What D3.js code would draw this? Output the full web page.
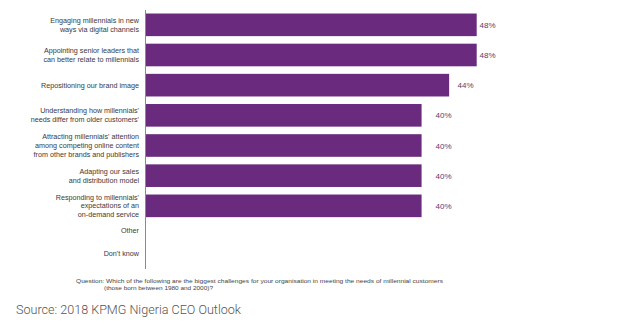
<!DOCTYPE html>
<html><head><meta charset="utf-8">
<script src="https://cdn.jsdelivr.net/npm/d3@7"></script>
<style>
body{margin:0;background:#fff;}
svg{display:block;}
</style></head>
<body>
<svg id="chart" width="626" height="331"></svg>
<script>
const categories = [
  ["Engaging millennials in new","ways via digital channels"],
  ["Appointing senior leaders that","can better relate to millennials"],
  ["Repositioning our brand image"],
  ["Understanding how millennials'","needs differ from older customers'"],
  ["Attracting millennials' attention","among competing online content","from other brands and publishers"],
  ["Adapting our sales","and distribution model"],
  ["Responding to millennials'","expectations of an","on-demand service"],
  ["Other"],
  ["Don't know"]
];
const values = [48, 48, 44, 40, 40, 40, 40, null, null];
const valueLabels = ["48%","48%","44%","40%","40%","40%","40%","",""];
const questionLines = [
  "Question: Which of the following are the biggest challenges for your organisation in meeting the needs of millennial customers",
  "(those born between 1980 and 2000)?"
];
const sourceText = "Source: 2018 KPMG Nigeria CEO Outlook";

const svg = d3.select("#chart");
const ids = categories.map((c,i)=>i);

const yBar = d3.scaleBand().domain(ids).range([10.5, 280.5]).paddingInner(0.25).paddingOuter(0.1);
const yOther = d3.scaleLinear().domain([7, 8]).range([230, 253]);
const x = d3.scaleLinear().domain([0, 48]).range([146, 476.7]);
const xLab = d3.scaleLinear().domain([40, 48]).range([435.5, 479.5]);

// bars
svg.append("g").selectAll("rect")
  .data(ids.filter(i => values[i] != null))
  .join("rect")
  .attr("x", x(0))
  .attr("y", i => yBar(i))
  .attr("width", i => x(values[i]) - x(0))
  .attr("height", yBar.bandwidth())
  .attr("fill", "#6a2b7e");

// axis line
svg.append("line")
  .attr("x1", 145.5).attr("x2", 145.5)
  .attr("y1", 10).attr("y2", 269)
  .attr("stroke", "#8a8a8a").attr("stroke-width", 1);

// category labels
const lg = svg.append("g")
  .attr("font-family", "Liberation Sans, Arial, sans-serif")
  .attr("font-size", 7.2)
  .attr("fill", "#3a3a3a")
  .attr("text-anchor", "end");
ids.forEach(i => {
  const lines = categories[i];
  const cy = values[i] != null ? yBar(i) + yBar.bandwidth()/2 : yOther(i);
  const lh = 8.8;
  const t = lg.append("text").attr("x", 139);
  lines.forEach((ln, k) => {
    t.append("tspan").attr("x", 139)
      .attr("y", cy + (k - (lines.length - 1)/2) * lh + 2.5)
      .text(ln);
  });
});

// value labels
svg.append("g").selectAll("text")
  .data(ids.filter(i => values[i] != null))
  .join("text")
  .attr("x", i => xLab(values[i]))
  .attr("y", i => yBar(i) + yBar.bandwidth()/2 + 3)
  .attr("font-family", "Liberation Sans, Arial, sans-serif")
  .attr("font-size", 8)
  .attr("fill", "#5b3a6e")
  .text(i => valueLabels[i]);

// question
const qg = svg.append("g")
  .attr("font-family", "Liberation Sans, Arial, sans-serif")
  .attr("font-size", 6.2)
  .attr("fill", "#444");
qg.append("text").attr("x", 76).attr("y", 283.3)
  .attr("textLength", 367).attr("lengthAdjust", "spacingAndGlyphs")
  .text(questionLines[0]);
qg.append("text").attr("x", 104).attr("y", 290)
  .attr("textLength", 109).attr("lengthAdjust", "spacingAndGlyphs")
  .text(questionLines[1]);

// source
svg.append("text")
  .attr("x", 16).attr("y", 314)
  .attr("font-family", "Roboto, sans-serif")
  .attr("font-size", 12.6)
  .attr("font-weight", 300)
  .attr("fill", "#555")
  .attr("textLength", 225).attr("lengthAdjust", "spacingAndGlyphs")
  .text(sourceText);
</script>
</body></html>
